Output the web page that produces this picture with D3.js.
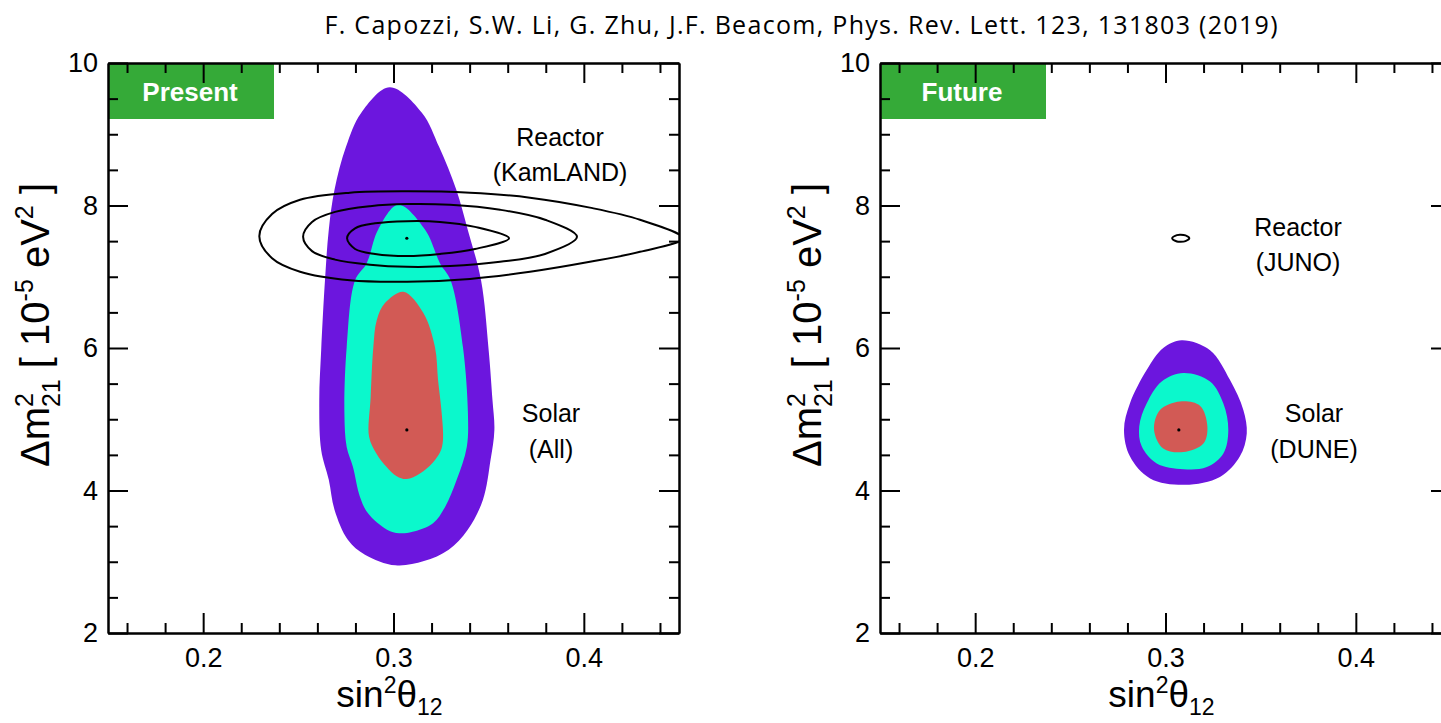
<!DOCTYPE html>
<html lang="en">
<head>
  <meta charset="UTF-8">
  <title>Solar vs reactor: sin2theta12 / dm2_21</title>
  <script src="https://d3js.org/d3.v7.min.js"></script>
  <style>
    body { margin: 0; background: #fff; }
    text { font-family: "Liberation Sans", Arial, sans-serif; }
  </style>
</head>
<body>
  <script>
    // data: [sin^2 theta12, dm2_21 (1e-5 eV^2)]
    const xMajorTicks = [0.2, 0.3, 0.4];
    const xMinorTicks = [0.16, 0.18, 0.22, 0.24, 0.26, 0.28, 0.32, 0.34, 0.36, 0.38, 0.42, 0.44];
    const yMajorTicks = [2, 4, 6, 8, 10];
    const yMinorTicks = [2.5, 3, 3.5, 4.5, 5, 5.5, 6.5, 7, 7.5, 8.5, 9, 9.5];

    const solarBest = [0.307, 4.85];
    const reactorBest = [0.307, 7.54];

    // present: all solar data (3, 2, 1 sigma)
    const solarAll3 = [[0.298,9.66],[0.315,9.30],[0.324,8.82],[0.333,8.22],[0.339,7.66],[0.346,6.95],[0.350,5.97],
      [0.352,5.27],[0.353,4.85],[0.351,4.43],[0.347,3.87],[0.339,3.45],[0.329,3.17],[0.316,3.01],[0.301,2.95],
      [0.285,3.10],[0.276,3.31],[0.269,3.73],[0.266,4.15],[0.262,4.57],[0.261,5.27],[0.262,5.97],[0.264,6.95],
      [0.266,7.66],[0.269,8.22],[0.275,8.82],[0.283,9.30]];
    const solarAll2 = [[0.3025,8.01],[0.3166,7.66],[0.3244,7.19],[0.3300,6.95],[0.3365,6.01],[0.3391,5.09],
      [0.3385,4.61],[0.3332,4.15],[0.3271,3.77],[0.3208,3.54],[0.3100,3.42],[0.3030,3.40],[0.2966,3.45],
      [0.2866,3.68],[0.2824,3.91],[0.2787,4.33],[0.2754,4.61],[0.2742,5.09],[0.2754,6.01],[0.2798,6.95],
      [0.2859,7.19],[0.2919,7.66]];
    const solarAll1 = [[0.3052,6.79],[0.3157,6.49],[0.3218,6.01],[0.3234,5.55],[0.3253,5.09],[0.3260,4.71],
      [0.3247,4.55],[0.3206,4.39],[0.3139,4.24],[0.3069,4.16],[0.3017,4.20],[0.2964,4.33],[0.2910,4.52],
      [0.2872,4.75],[0.2880,5.31],[0.2894,6.01],[0.2912,6.39],[0.2955,6.63]];

    // present: KamLAND (1, 2, 3 sigma lines)
    const kamland1 = [[0.2756,7.54],[0.2798,7.68],[0.2903,7.75],[0.3071,7.78],[0.3244,7.77],[0.3428,7.70],
      [0.3607,7.54],[0.3428,7.39],[0.3244,7.32],[0.3071,7.29],[0.2903,7.32],[0.2798,7.39]];
    const kamland2 = [[0.2525,7.56],[0.2572,7.77],[0.2693,7.91],[0.2877,7.99],[0.3071,8.02],[0.3297,8.01],
      [0.3560,7.94],[0.3796,7.80],[0.3964,7.56],[0.3796,7.32],[0.3560,7.21],[0.3297,7.15],[0.3071,7.14],
      [0.2877,7.17],[0.2693,7.24],[0.2572,7.36]];
    const kamland3 = [[0.2295,7.57],[0.2362,7.88],[0.2509,8.08],[0.2771,8.18],[0.3071,8.20],[0.3402,8.18],
      [0.3717,8.11],[0.4032,7.97],[0.4295,7.80],[0.4520,7.54],[0.4295,7.35],[0.4032,7.21],[0.3717,7.07],
      [0.3402,6.97],[0.3071,6.93],[0.2771,6.95],[0.2509,7.07],[0.2362,7.26]];

    // future: DUNE solar (3, 2, 1 sigma) and JUNO
    const dune3 = [[0.3085,6.11],[0.3234,5.97],[0.3339,5.55],[0.3409,5.13],[0.3427,4.80],[0.3391,4.48],
      [0.3286,4.19],[0.3102,4.08],[0.2919,4.17],[0.2813,4.48],[0.2782,4.85],[0.2813,5.22],[0.2901,5.69],
      [0.2988,6.00]];
    const dune2 = [[0.3094,5.65],[0.3234,5.53],[0.3304,5.22],[0.3330,4.85],[0.3304,4.52],[0.3217,4.33],
      [0.3094,4.30],[0.2954,4.38],[0.2875,4.62],[0.2862,4.90],[0.2901,5.22],[0.2980,5.53]];
    const dune1 = [[0.3076,5.25],[0.3181,5.19],[0.3220,4.90],[0.3199,4.66],[0.3094,4.54],[0.2988,4.59],
      [0.2940,4.85],[0.2971,5.13]];
    const juno1 = [[0.3035,7.54],[0.3060,7.585],[0.3080,7.59],[0.3105,7.58],[0.3125,7.54],[0.3105,7.50],
      [0.3080,7.49],[0.3060,7.495]];

    const colors = { s3: "#6c16de", s2: "#0bf8cc", s1: "#d25a55", tag: "#35aa38" };

    const W = 571, H = 570;
    const svg = d3.select("body").append("svg")
      .attr("width", 1441).attr("height", 723);

    svg.append("text")
      .attr("x", 801).attr("y", 34)
      .attr("text-anchor", "middle")
      .style("font-family", "'Open Sans', 'Noto Sans', sans-serif")
      .style("font-size", "25px")
      .attr("textLength", 953).attr("lengthAdjust", "spacing")
      .text("F. Capozzi, S.W. Li, G. Zhu, J.F. Beacom, Phys. Rev. Lett. 123, 131803 (2019)");

    const x = d3.scaleLinear().domain([0.15, 0.45]).range([0, W]);
    const y = d3.scaleLinear().domain([2, 10]).range([H, 0]);
    const line = d3.line().x(d => x(d[0])).y(d => y(d[1])).curve(d3.curveCatmullRomClosed.alpha(0.5));

    function styleAxis(a, tr) {
      if (tr) a.attr("transform", tr);
      a.selectAll("line").attr("stroke-width", 2);
      a.select(".domain").attr("stroke-width", 2);
      a.selectAll("text").style("font-size", "27px")
        .style("font-family", "'Liberation Sans', Arial, sans-serif").attr("fill", "#000");
    }

    function panel(left, id, tag, fills, ellipses, dots, labels) {
      const g = svg.append("g").attr("transform", `translate(${left},63)`);
      g.append("clipPath").attr("id", id).append("rect").attr("width", W).attr("height", H);
      const plot = g.append("g").attr("clip-path", `url(#${id})`);

      fills.forEach(f => plot.append("path").attr("d", line(f.pts)).attr("fill", f.color));
      plot.selectAll("circle.bf").data(dots).join("circle")
        .attr("cx", d => x(d[0])).attr("cy", d => y(d[1])).attr("r", 1.6).attr("fill", "#000");
      ellipses.forEach(e => plot.append("path").attr("d", line(e))
        .attr("fill", "none").attr("stroke", "#000").attr("stroke-width", 2));

      // tag box
      g.append("rect").attr("width", 166).attr("height", 56).attr("fill", colors.tag);
      g.append("text").attr("x", 82).attr("y", 38).attr("text-anchor", "middle")
        .style("font-size", "26px").style("font-weight", "bold").attr("fill", "#fff").text(tag);

      // axes, ticks pointing inward on all sides
      const axes = [
        [() => d3.axisBottom(x), `translate(0,${H})`, xMajorTicks, xMinorTicks, 15],
        [() => d3.axisTop(x), null, xMajorTicks, xMinorTicks, null],
        [() => d3.axisLeft(y), null, yMajorTicks, yMinorTicks, 10],
        [() => d3.axisRight(y), `translate(${W},0)`, yMajorTicks, yMinorTicks, null]
      ];
      axes.forEach(([mk, tr, major, minor, pad]) => {
        const gm = g.append("g")
          .call(mk().tickValues(minor).tickSize(-10).tickSizeOuter(0).tickFormat(""));
        const gM = g.append("g")
          .call(mk().tickValues(major).tickSize(-20).tickSizeOuter(0)
            .tickPadding(pad || 0).tickFormat(pad ? (d => d) : ""));
        styleAxis(gm, tr);
        styleAxis(gM, tr);
      });

      // axis titles
      const xt = g.append("text").attr("x", W / 2 - 4).attr("y", 644).attr("text-anchor", "middle")
        .style("font-size", "37px");
      xt.append("tspan").text("sin");
      xt.append("tspan").attr("dy", -14).style("font-size", "23px").text("2");
      xt.append("tspan").attr("dy", 14).text("θ");
      xt.append("tspan").attr("dy", 8).style("font-size", "23px").text("12");

      const yt = g.append("text").attr("transform", `translate(-59,262) rotate(-90)`)
        .attr("text-anchor", "middle").style("font-size", "40px");
      yt.append("tspan").text("Δm");
      yt.append("tspan").attr("dy", -16).style("font-size", "25px").text("2");
      yt.append("tspan").attr("dx", -14).attr("dy", 27).style("font-size", "25px").text("21");
      yt.append("tspan").attr("dy", -11).text(" [ 10");
      yt.append("tspan").attr("dy", -16).style("font-size", "25px").text("-5");
      yt.append("tspan").attr("dy", 16).text(" eV");
      yt.append("tspan").attr("dy", -16).style("font-size", "25px").text("2");
      yt.append("tspan").attr("dy", 16).text(" ]");

      labels.forEach(l => g.append("text").attr("x", l[0]).attr("y", l[1]).attr("text-anchor", "middle")
        .style("font-size", "25px").text(l[2]));
    }

    panel(108, "clipL", "Present",
      [{ pts: solarAll3, color: colors.s3 }, { pts: solarAll2, color: colors.s2 }, { pts: solarAll1, color: colors.s1 }],
      [kamland1, kamland2, kamland3], [solarBest, reactorBest],
      [[452, 83, "Reactor"], [452, 118, "(KamLAND)"], [443, 359, "Solar"], [443, 395, "(All)"]]);

    panel(880, "clipR", "Future",
      [{ pts: dune3, color: colors.s3 }, { pts: dune2, color: colors.s2 }, { pts: dune1, color: colors.s1 }],
      [juno1], [solarBest],
      [[418, 173, "Reactor"], [418, 208, "(JUNO)"], [434, 359, "Solar"], [434, 395, "(DUNE)"]]);
  </script>
</body>
</html>
